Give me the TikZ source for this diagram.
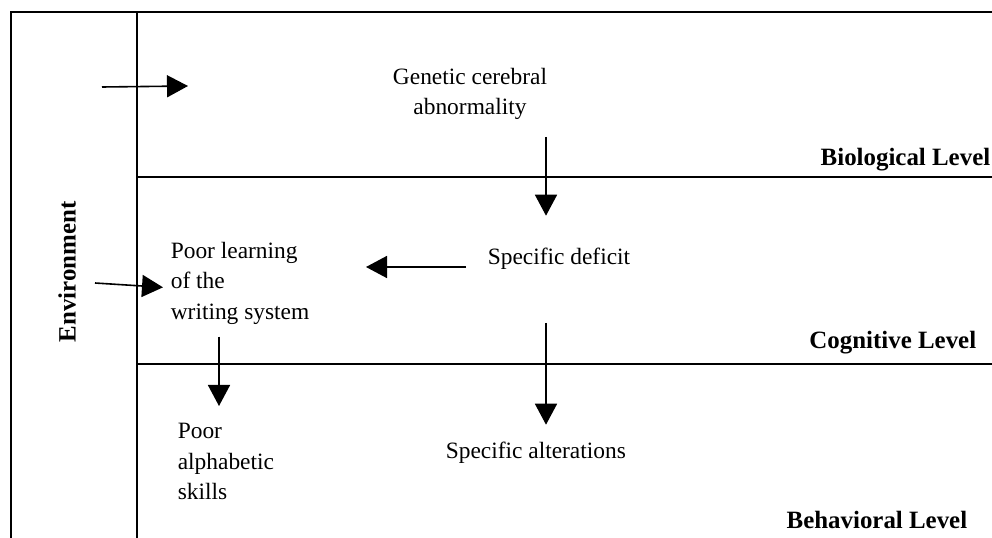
\documentclass[tikz,border=0pt]{standalone}
\usepackage{fontspec}
\setmainfont{Liberation Serif}
\usetikzlibrary{arrows.meta}
\begin{document}
\begin{tikzpicture}[x=1bp, y=1bp, line width=1.6bp,
    txt/.style={inner sep=0pt, font=\fontsize{23.5}{31}\selectfont},
    lvl/.style={inner sep=0pt, anchor=base east, font=\fontsize{25}{30}\selectfont\bfseries},
    arr/.style={-{Triangle[length=21bp, width=22bp]}}]
    \useasboundingbox (0,0) rectangle (992,-538);
    \draw (11,-538) -- (11,-12) -- (992,-12);
    \draw (137,-12) -- (137,-538);
    \draw (137,-177) -- (992,-177);
    \draw (137,-364) -- (992,-364);
    \node[lvl] (bio) at (991,-166) {Biological Level};
    \node[lvl] (cog) at (977,-349) {Cognitive Level};
    \node[lvl] (beh) at (968,-528) {Behavioral Level};
    \node[lvl, anchor=center, rotate=90] (env) at (67,-272) {Environment};
    \node[txt, align=center, anchor=north] (gen) at (470,-67) {Genetic cerebral\\abnormality};
    \node[txt, anchor=base west] (def) at (487,-265) {Specific deficit};
    \node[txt, anchor=base west] (alt) at (445,-458) {Specific alterations};
    \node[txt, align=left, anchor=north west] (learn) at (170,-241) {Poor learning\\of the\\writing system};
    \node[txt, align=left, anchor=north west] (alph) at (177,-422) {Poor\\alphabetic\\skills};
    \coordinate (envtop) at (102,-87);
    \coordinate (toptip) at (188,-86);
    \coordinate (envmid) at (95,-283);
    \coordinate (deftip) at (366,-267);
    \coordinate (colA) at (219,0);
    \coordinate (colB) at (546,0);
    \draw[arr] (envtop) -- (toptip);
    \draw[arr] (envmid) -- ([shift={(-7,-4)}]learn.west);
    \draw[arr, shorten <=16bp, shorten >=32bp] (gen.south -| colB) -- (def.north -| colB);
    \draw[arr] ([shift={(-21,-2)}]def.base west) -- (deftip);
    \draw[arr, shorten <=52bp, shorten >=16bp] (def.south -| colB) -- (alt.north -| colB);
    \draw[arr, shorten <=11bp, shorten >=16bp] (learn.south -| colA) -- (alph.north -| colA);
\end{tikzpicture}
\end{document}
